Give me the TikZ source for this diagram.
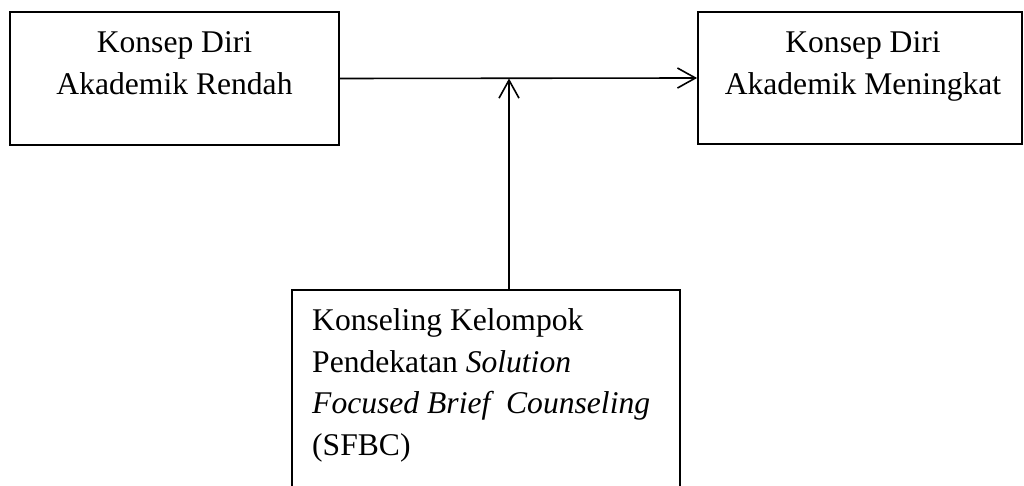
\documentclass[tikz,border=0pt]{standalone}
\usepackage{fontspec}
\setmainfont{Liberation Serif}
\usetikzlibrary{arrows.meta}
\begin{document}
\begin{tikzpicture}[x=1pt,y=-1pt,
  boxstyle/.style={draw=black,line width=1.8pt,rectangle,inner sep=0pt},
  txt/.style={font=\fontsize{31.6}{42}\selectfont,inner sep=0pt},
  conn/.style={line width=1.6pt,-{Straight Barb[length=18pt,width=20pt,line width=1.6pt]}}]
\useasboundingbox (0,0) rectangle (1024,486);
\clip (0,0) rectangle (1024,486);
\node[boxstyle,minimum width=329pt,minimum height=133pt] (a) at (174.5,78.5) {};
\node[boxstyle,minimum width=324pt,minimum height=132pt] (b) at (860,78) {};
\node[boxstyle,minimum width=388pt,minimum height=260pt,anchor=north] (c) at (486,289) {};
\node[txt,align=center,anchor=base] (ta) at (174.5,95) {Konsep Diri\\Akademik Rendah};
\node[txt,align=center,anchor=base] (tb) at (863,95) {Konsep Diri\\Akademik Meningkat};
\node[txt,align=left,anchor=base west,font=\fontsize{31.6}{41.4}\selectfont] (tc) at (312,455) {Konseling Kelompok\\Pendekatan \textit{Solution}\\\textit{Focused Brief\ \ Counseling}\\(SFBC)};
\draw[conn] (a.east) -- (b.west);
\coordinate (cn) at ([xshift=23pt]c.north);
\coordinate (m) at (cn |- a.east);
\draw[conn] (cn) -- (m);
\end{tikzpicture}
\end{document}
